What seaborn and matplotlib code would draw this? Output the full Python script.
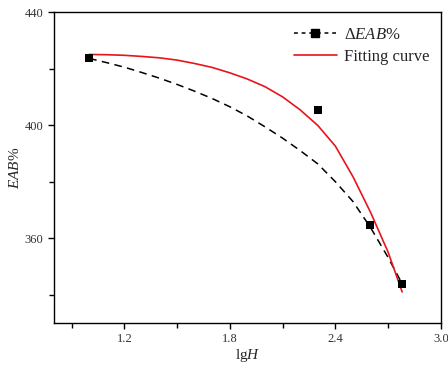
import numpy as np
import pandas as pd
import matplotlib
matplotlib.use("Agg")
import matplotlib.pyplot as plt
import seaborn as sns
from matplotlib.lines import Line2D
from matplotlib.ticker import MultipleLocator

# dados medidos (lgH x EAB%)
lg_h = [1.0, 2.30, 2.60, 2.78]
eab = [423.7, 405.2, 364.8, 343.7]

# curva tracejada
dash_x = [1.0, 1.1, 1.2, 1.3, 1.4, 1.5, 1.6, 1.7, 1.8, 1.9, 2.0,
          2.1, 2.2, 2.3, 2.4, 2.5, 2.6, 2.7, 2.78]
dash_y = [423.6, 422.1, 420.5, 418.6, 416.6, 414.4, 412.0, 409.4, 406.5, 403.2, 399.4,
          395.4, 391.0, 386.3, 380.0, 373.0, 363.8, 353.2, 343.9]

# curva de ajuste (vermelha)
fit_x = [1.0, 1.1, 1.2, 1.3, 1.4, 1.5, 1.6, 1.7, 1.8, 1.9, 2.0,
         2.1, 2.2, 2.3, 2.4, 2.5, 2.6, 2.7, 2.78]
fit_y = [425.0, 424.9, 424.7, 424.3, 423.8, 423.0, 421.8, 420.4, 418.5, 416.3, 413.6,
         410.0, 405.4, 399.9, 392.6, 381.8, 369.2, 355.1, 341.0]

sns.set_style("ticks")
plt.rcParams["font.family"] = ["Liberation Serif", "DejaVu Serif"]
plt.rcParams["mathtext.fontset"] = "custom"
plt.rcParams["mathtext.rm"] = "Liberation Serif"
plt.rcParams["mathtext.it"] = "Liberation Serif:italic"

fig = plt.figure(figsize=(4.48, 3.65), dpi=100)
ax = fig.add_axes([0.1205, 0.115, 0.8635, 0.852])

dash_df = pd.DataFrame({"x": dash_x, "y": dash_y})
fit_df = pd.DataFrame({"x": fit_x, "y": fit_y})
pts_df = pd.DataFrame({"x": lg_h, "y": eab})

sns.lineplot(data=dash_df, x="x", y="y", ax=ax, color="black", lw=1.1,
             linestyle=(0, (5, 3.5)), sort=False)
sns.lineplot(data=fit_df, x="x", y="y", ax=ax, color="#e8141b", lw=1.2, sort=False)
sns.scatterplot(data=pts_df, x="x", y="y", ax=ax, color="black", marker="s",
                s=30, edgecolor="black", linewidth=0, zorder=5)

ax.set_xlim(0.8, 3.0)
ax.set_ylim(330, 440)
ax.xaxis.set_major_locator(MultipleLocator(0.6))
ax.xaxis.set_minor_locator(MultipleLocator(0.3))
ax.yaxis.set_major_locator(MultipleLocator(40))
ax.yaxis.set_minor_locator(MultipleLocator(20))
ax.set_xticks([1.2, 1.8, 2.4, 3.0])
ax.set_xticklabels(["1.2", "1.8", "2.4", "3.0"])
ax.set_yticks([360, 400, 440])

ax.tick_params(which="major", direction="out", length=4, width=1, labelsize=9,
               labelcolor="#333333", color="black")
ax.tick_params(which="minor", direction="out", length=3.5, width=1, color="black")
for sp in ax.spines.values():
    sp.set_visible(True)
    sp.set_color("black")
    sp.set_linewidth(1.0)

ax.set_xlabel("lg$\\mathit{H}$", fontsize=11, labelpad=1)
ax.set_ylabel("$\\mathit{EAB}$%", fontsize=11, labelpad=2)

handles = [
    Line2D([], [], color="black", lw=1.1, linestyle=(0, (2.5, 2.5)), marker="s", markersize=5.5),
    Line2D([], [], color="#e8141b", lw=1.2),
]
ax.legend(handles, ["Δ$\\mathit{EAB}$%", "Fitting curve"], loc="upper right",
          frameon=False, fontsize=12, handlelength=2.6, handletextpad=0.4,
          labelspacing=0.35, borderaxespad=0.3, bbox_to_anchor=(1.0, 0.99))

fig.savefig("out.png", dpi=100)
